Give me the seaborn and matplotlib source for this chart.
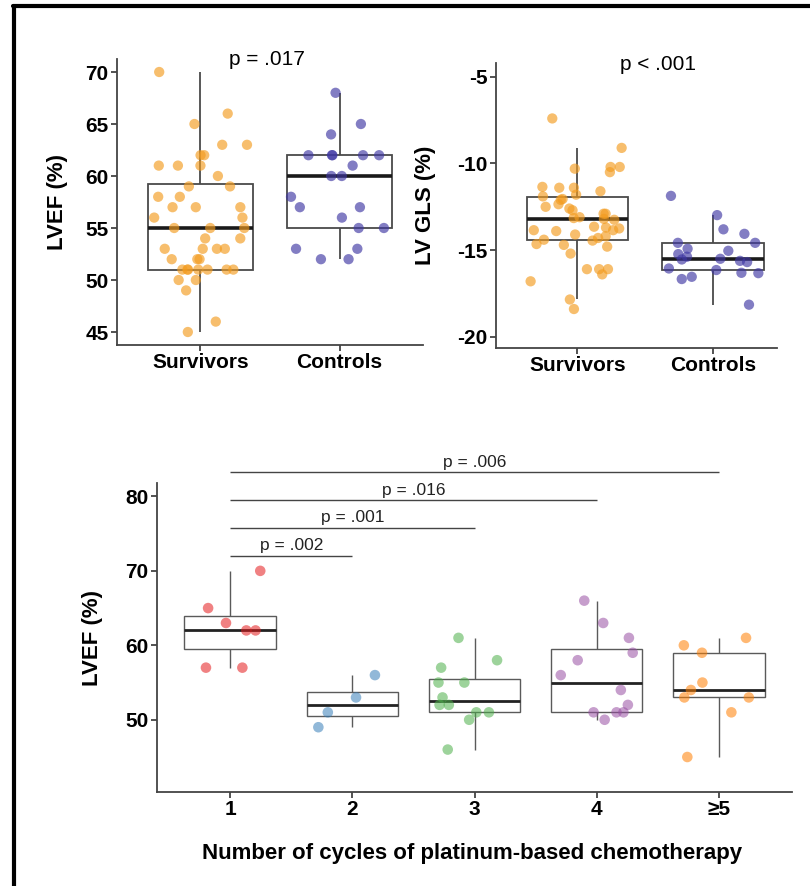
import numpy as np
import pandas as pd
import matplotlib
matplotlib.use("Agg")
import matplotlib.pyplot as plt
import seaborn as sns
from matplotlib.lines import Line2D

# values
lvef_survivors = [70, 66, 65, 63, 63, 62, 62, 61, 61, 61, 60, 59, 59, 58, 58,
                  57, 57, 57, 56, 56, 55, 55, 55, 54, 54, 53, 53, 53, 53,
                  52, 52, 52, 51, 51, 51, 51, 51, 51, 51, 50, 50, 49, 46, 45]
lvef_controls = [68, 65, 64, 62, 62, 62, 62, 62, 61, 60, 60, 58, 57, 57, 56,
                 55, 55, 53, 53, 52, 52]

gls_survivors = [-7.4, -9.1, -10.2, -10.2, -10.3, -10.5, -11.35, -11.4, -11.4,
                 -11.6, -11.8, -11.9, -12.05, -12.1, -12.35, -12.5, -12.6, -12.7,
                 -12.9, -12.9, -13.1, -13.15, -13.2, -13.25, -13.65, -13.7,
                 -13.75, -13.85, -13.85, -13.9, -14.1, -14.2, -14.3, -14.4,
                 -14.45, -14.65, -14.7, -14.8, -15.2, -16.1, -16.1, -16.1,
                 -16.4, -16.8, -17.85, -18.4]
gls_controls = [-11.87, -12.98, -13.8, -14.06, -14.58, -14.58, -14.92, -15.04,
                -15.23, -15.38, -15.5, -15.54, -15.62, -15.69, -16.06, -16.15,
                -16.31, -16.33, -16.54, -16.67, -18.15]

groups_top = ["Survivors", "Controls"]

cycle_labels = ["1", "2", "3", "4", "\u22655"]
lvef_c1 = [70, 65, 63, 62, 62, 57, 57]
lvef_c2 = [56, 53, 51, 49]
lvef_c3 = [61, 58, 57, 55, 55, 53, 52, 52, 51, 51, 50, 46]
lvef_c4 = [66, 63, 61, 59, 58, 56, 54, 52, 51, 51, 51, 50]
lvef_c5 = [61, 60, 59, 55, 54, 53, 53, 51, 45]

# pairwise comparisons vs 1 cycle
comp_end = [1, 2, 3, 4]
comp_p = ["p = .002", "p = .001", "p = .016", "p = .006"]
comp_y = [72, 75.75, 79.5, 83.25]

top_palette = {"Survivors": "#F39C1F", "Controls": "#3F37A3"}
cyc_palette = dict(zip(cycle_labels, ["#E41A1C", "#377EB8", "#4DAF4A", "#984EA3", "#FF7F00"]))

sns.set_style("ticks")
plt.rcParams["font.family"] = ["Liberation Sans", "DejaVu Sans"]
plt.rcParams["text.color"] = "black"
plt.rcParams["axes.labelcolor"] = "black"
plt.rcParams["xtick.labelcolor"] = "black"
plt.rcParams["ytick.labelcolor"] = "black"
np.random.seed(7)

fig = plt.figure(figsize=(8.1, 8.86), dpi=100)
W, H = 810, 886


def box_axes(l, t, r, b):
    return fig.add_axes([l / W, 1 - b / H, (r - l) / W, (b - t) / H])


def style(ax, lw):
    sns.despine(ax=ax)
    for s in ["left", "bottom"]:
        ax.spines[s].set_color("#444444")
        ax.spines[s].set_linewidth(lw)
    ax.tick_params(axis="both", length=4, width=lw, color="#444444", pad=2,
                   labelcolor="black")
    ax.set_xlabel("")


def draw_top(ax, surv, ctrl, yname, ylim, yticks, ptext, px, py):
    df = pd.DataFrame({"grp": ["Survivors"] * len(surv) + ["Controls"] * len(ctrl),
                       "val": surv + ctrl})
    sns.boxplot(data=df, x="grp", y="val", order=groups_top, ax=ax, width=0.75,
                color="white", linecolor="#4a4a4a", linewidth=1.3,
                showfliers=False, showcaps=False,
                medianprops=dict(color="#1a1a1a", linewidth=2.6))
    sns.stripplot(data=df, x="grp", y="val", order=groups_top, hue="grp",
                  palette=top_palette, legend=False, ax=ax, jitter=0.35,
                  size=7.4, alpha=0.65, linewidth=0, zorder=3)
    ax.set_xlim(-0.6, 1.6)
    ax.set_ylim(*ylim)
    ax.set_yticks(yticks, labels=[str(v) for v in yticks], fontweight="bold", fontsize=15)
    ax.set_xticks([0, 1], labels=groups_top, fontweight="bold", fontsize=15)
    style(ax, 1.3)
    ax.set_ylabel(yname, fontsize=16, fontweight="bold")
    ax.text(px, py, ptext, ha="center", va="center", fontsize=15, clip_on=False)


ax1 = box_axes(117, 59, 423, 345)
draw_top(ax1, lvef_survivors, lvef_controls, "LVEF (%)", (43.75, 71.25),
         [45, 50, 55, 60, 65, 70], "p = .017", 0.48, 71.2)
ax1.yaxis.set_label_coords(-0.16, 0.5)

ax2 = box_axes(496, 63, 777, 348)
draw_top(ax2, gls_survivors, gls_controls, "LV GLS (%)", (-20.65, -4.2),
         [-20, -15, -10, -5], "p < .001", 0.59, -4.3)
ax2.set_xlim(-0.6, 1.47)
ax2.yaxis.set_label_coords(-0.215, 0.5)

# bottom panel
vals = [lvef_c1, lvef_c2, lvef_c3, lvef_c4, lvef_c5]
dfc = pd.DataFrame({"cyc": np.repeat(cycle_labels, [len(v) for v in vals]),
                    "lvef": np.concatenate(vals)})
ax3 = box_axes(157, 483, 792, 792)
sns.boxplot(data=dfc, x="cyc", y="lvef", order=cycle_labels, ax=ax3, width=0.75,
            color="white", linecolor="#5a5a5a", linewidth=1.0,
            showfliers=False, showcaps=False,
            medianprops=dict(color="#222222", linewidth=2.0))
sns.stripplot(data=dfc, x="cyc", y="lvef", order=cycle_labels, hue="cyc",
              palette=cyc_palette, legend=False, ax=ax3, jitter=0.3,
              size=7.6, alpha=0.55, linewidth=0, zorder=3)
ax3.set_xlim(-0.6, 4.6)
ax3.set_ylim(40.3, 81.8)
ax3.set_yticks([50, 60, 70, 80], labels=["50", "60", "70", "80"], fontweight="bold", fontsize=15)
ax3.set_xticks(range(5), labels=cycle_labels, fontweight="bold", fontsize=15)
style(ax3, 1.3)
ax3.set_ylabel("LVEF (%)", fontsize=16, fontweight="bold")
ax3.yaxis.set_label_coords(-0.085, 0.5)
ax3.set_xlabel("Number of cycles of platinum-based chemotherapy", fontsize=16, fontweight="bold")
ax3.xaxis.set_label_coords(0.496, -0.165)

for end, ptxt, yv in zip(comp_end, comp_p, comp_y):
    ax3.hlines(yv, 0, end, color="#444444", linewidth=1.0, clip_on=False)
    ax3.text(end / 2, yv + 0.35, ptxt, ha="center", va="bottom", fontsize=12.5,
             color="#222222", clip_on=False)

# outer frame of the figure panel
fx, fy = 14 / W, 1 - 5.5 / H
fig.add_artist(Line2D([fx, fx], [0, fy], color="black", linewidth=3, transform=fig.transFigure))
fig.add_artist(Line2D([fx - 1.5 / W, 1], [fy, fy], color="black", linewidth=3, transform=fig.transFigure))

fig.savefig("out.png", dpi=100, facecolor="white")
